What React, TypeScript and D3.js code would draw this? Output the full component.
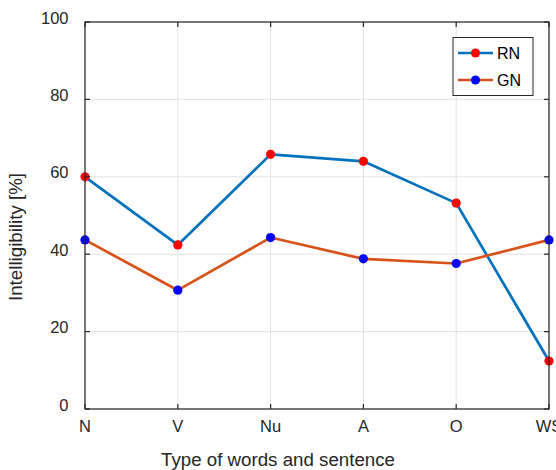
import React from "react";
import * as d3 from "d3";

const categories = ["N", "V", "Nu", "A", "O", "WS"];
const rnValues = [60.0, 42.4, 65.8, 64.0, 53.2, 12.4];
const gnValues = [43.7, 30.7, 44.3, 38.8, 37.6, 43.7];
const yTicks = [0, 20, 40, 60, 80, 100];

const W = 556;
const H = 470;
const margin = { left: 85, top: 22, right: 7, bottom: 61 };
const FONT = "'Liberation Sans', Arial, Helvetica, sans-serif";
const AXIS = "#262626";
const GRID = "#e3e3e3";

export default function App() {
  const x = d3
    .scalePoint<string>()
    .domain(categories)
    .range([margin.left, W - margin.right]);
  const y = d3
    .scaleLinear()
    .domain([0, 100])
    .range([H - margin.bottom, margin.top]);

  const x0 = margin.left;
  const x1 = W - margin.right;
  const y0 = H - margin.bottom;
  const y1 = margin.top;

  const line = d3
    .line<number>()
    .x((_, i) => x(categories[i]) as number)
    .y((d) => y(d));

  const series = [
    { name: "RN", values: rnValues, color: "#0072BD", marker: "#FF0000" },
    { name: "GN", values: gnValues, color: "#D95319", marker: "#0000FF" },
  ];

  const tickLen = 5;

  return (
    <svg
      width={W}
      height={H}
      style={{ position: "absolute", left: 0, top: 0, background: "#fff" }}
      fontFamily={FONT}
    >
      <rect x={0} y={0} width={W} height={H} fill="#fff" />
      {/* grid */}
      {categories.map((c) => (
        <line
          key={"gx" + c}
          x1={x(c)}
          x2={x(c)}
          y1={y0}
          y2={y1}
          stroke={GRID}
          strokeWidth={1}
        />
      ))}
      {yTicks.map((t) => (
        <line
          key={"gy" + t}
          x1={x0}
          x2={x1}
          y1={y(t)}
          y2={y(t)}
          stroke={GRID}
          strokeWidth={1}
        />
      ))}

      {/* series */}
      {series.map((s) => (
        <path
          key={s.name}
          d={line(s.values) || ""}
          fill="none"
          stroke={s.color}
          strokeWidth={2.7}
          strokeLinejoin="round"
        />
      ))}
      {series.map((s) => (
        <g key={s.name + "m"}>
          {s.values.map((v, i) => (
            <circle
              key={i}
              cx={x(categories[i])}
              cy={y(v)}
              r={4.6}
              fill={s.marker}
            />
          ))}
        </g>
      ))}

      {/* axes box */}
      <rect
        x={x0}
        y={y1}
        width={x1 - x0}
        height={y0 - y1}
        fill="none"
        stroke={AXIS}
        strokeWidth={1.2}
      />
      {/* ticks */}
      {categories.map((c) => (
        <g key={"tx" + c}>
          <line x1={x(c)} x2={x(c)} y1={y0} y2={y0 - tickLen} stroke={AXIS} strokeWidth={1.2} />
          <line x1={x(c)} x2={x(c)} y1={y1} y2={y1 + tickLen} stroke={AXIS} strokeWidth={1.2} />
          <text
            x={x(c)}
            y={y0 + 23}
            textAnchor="middle"
            fontSize={16.5}
            fill={AXIS}
          >
            {c}
          </text>
        </g>
      ))}
      {yTicks.map((t) => (
        <g key={"ty" + t}>
          <line x1={x0} x2={x0 + tickLen} y1={y(t)} y2={y(t)} stroke={AXIS} strokeWidth={1.2} />
          <line x1={x1} x2={x1 - tickLen} y1={y(t)} y2={y(t)} stroke={AXIS} strokeWidth={1.2} />
          <text
            x={x0 - 16.5}
            y={y(t) + 1.5}
            textAnchor="end"
            fontSize={16.5}
            fill={AXIS}
          >
            {t}
          </text>
        </g>
      ))}

      {/* axis titles */}
      <text
        x={278}
        y={466}
        textAnchor="middle"
        fontSize={18}
        textLength={234}
        lengthAdjust="spacingAndGlyphs"
        fill={AXIS}
      >
        Type of words and sentence
      </text>
      <text
        transform={`translate(21.5, 237) rotate(-90)`}
        textAnchor="middle"
        fontSize={18}
        textLength={128}
        lengthAdjust="spacingAndGlyphs"
        fill={AXIS}
      >
        Intelligibility [%]
      </text>

      {/* legend */}
      <rect
        x={453}
        y={37.5}
        width={80}
        height={58}
        fill="#fff"
        stroke={AXIS}
        strokeWidth={1}
      />
      {series.map((s, i) => {
        const ly = 53 + i * 27;
        return (
          <g key={"lg" + s.name}>
            <line x1={458} x2={493} y1={ly} y2={ly} stroke={s.color} strokeWidth={2.7} />
            <circle cx={475.5} cy={ly} r={4.6} fill={s.marker} />
            <text x={497} y={ly + 5.5} fontSize={16} fill="#000">
              {s.name}
            </text>
          </g>
        );
      })}
    </svg>
  );
}
